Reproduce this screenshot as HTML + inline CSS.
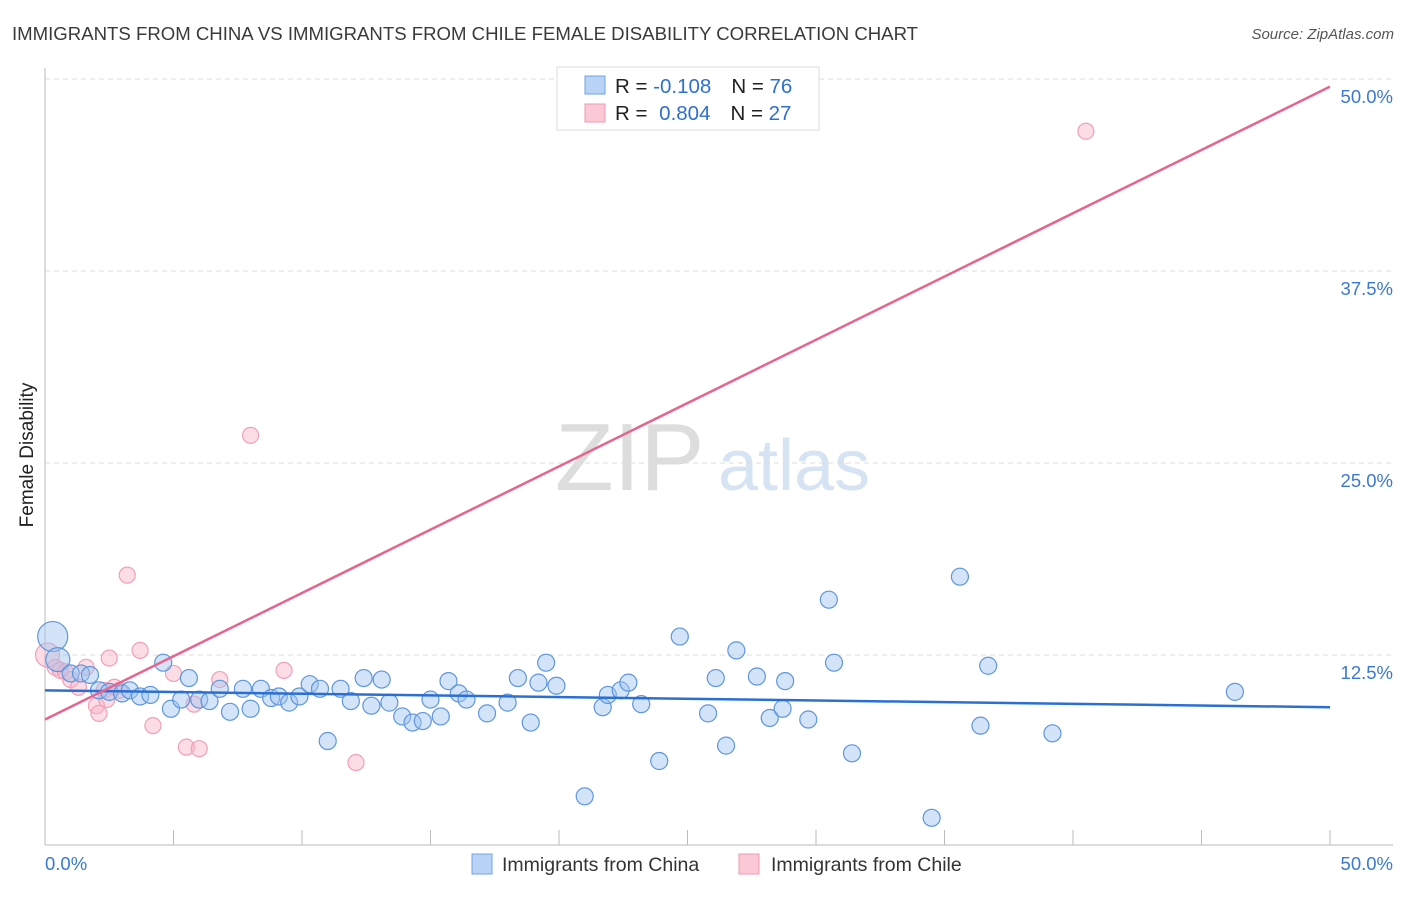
<!DOCTYPE html>
<html><head><meta charset="utf-8"><style>
body{margin:0;background:#fff;font-family:"Liberation Sans",sans-serif}
svg text{font-family:"Liberation Sans",sans-serif}
</style></head><body>
<svg id="chart" width="1406" height="892" xmlns="http://www.w3.org/2000/svg">
<text x="12" y="40" font-size="18.6" fill="#3a3a3a">IMMIGRANTS FROM CHINA VS IMMIGRANTS FROM CHILE FEMALE DISABILITY CORRELATION CHART</text>
<text x="1394" y="39" font-size="15" fill="#555" text-anchor="end" font-style="italic">Source: ZipAtlas.com</text>
<text x="555" y="490" font-size="96" fill="#ddd" font-family="Liberation Serif">ZIP</text>
<text x="718" y="490" font-size="72" fill="#d6e3f3">atlas</text>
<g id="grid"></g>
<g id="axes"></g>
<g id="marks"></g>
<text transform="translate(33,455) rotate(-90)" font-size="19" fill="#222" text-anchor="middle">Female Disability</text>
<text x="45" y="870" font-size="18.5" fill="#3a78d4">0.0%</text>
<text x="1393" y="870" font-size="18.5" fill="#3a78d4" text-anchor="end">50.0%</text>
<g>
<rect x="557" y="67" width="262" height="63" fill="#fff" stroke="#ddd"/>
<rect x="585" y="76" width="20" height="18" fill="#b8d3f5" stroke="#6fa3e6"/>
<rect x="585" y="104" width="20" height="18" fill="#fbc8d6" stroke="#ee9ab2"/>
<text x="615" y="93" font-size="20.5" fill="#222">R = <tspan fill="#2f6fd0">-0.108</tspan><tspan dx="20">N = </tspan><tspan fill="#2f6fd0">76</tspan></text>
<text x="615" y="120" font-size="20.5" fill="#222">R = <tspan fill="#2f6fd0" dx="6">0.804</tspan><tspan dx="20">N = </tspan><tspan fill="#2f6fd0">27</tspan></text>
</g>
<g>
<rect x="472" y="854" width="20" height="20" fill="#b8d3f5" stroke="#6fa3e6"/>
<text x="502" y="871" font-size="19.5" fill="#333">Immigrants from China</text>
<rect x="739" y="854" width="20" height="20" fill="#fbc8d6" stroke="#ee9ab2"/>
<text x="771" y="871" font-size="19.5" fill="#333">Immigrants from Chile</text>
</g>
</svg>
<script>
const yTicks=[12.5,25,37.5,50];
const yTickLabels=["12.5%","25.0%","37.5%","50.0%"];
const xTicks=[5,10,15,20,25,30,35,40,45,50];
const chinaX=[0.3,0.5,1.0,1.4,1.75,2.1,2.5,3.0,3.3,3.7,4.1,4.6,4.9,5.3,5.6,6.0,6.4,6.8,7.2,7.7,8.0,8.4,8.8,9.1,9.5,9.9,10.3,10.7,11.0,11.5,11.9,12.4,12.7,13.1,13.4,13.9,14.3,14.7,15.0,15.4,15.7,16.1,16.4,17.2,18.0,18.4,18.9,19.2,19.5,19.9,21.0,21.7,21.9,22.4,22.7,23.2,23.9,24.7,25.8,26.1,26.5,26.9,27.7,28.2,28.7,28.8,29.7,30.5,30.7,31.4,34.5,35.6,36.4,36.7,39.2,46.3];
const chinaY=[13.7,12.2,11.3,11.3,11.2,10.2,10.1,10.0,10.2,9.8,9.9,12.0,9.0,9.6,11.0,9.6,9.5,10.3,8.8,10.3,9.0,10.3,9.7,9.8,9.4,9.8,10.6,10.3,6.9,10.3,9.5,11.0,9.2,10.9,9.4,8.5,8.1,8.2,9.6,8.5,10.8,10.0,9.6,8.7,9.4,11.0,8.1,10.7,12.0,10.5,3.3,9.1,9.9,10.2,10.7,9.3,5.6,13.7,8.7,11.0,6.6,12.8,11.1,8.4,9.0,10.8,8.3,16.1,12.0,6.1,1.9,17.6,7.9,11.8,7.4,10.1];
const chinaR=[15,12];
const chileX=[0.1,0.4,0.6,0.8,1.0,1.3,1.6,2.0,2.1,2.3,2.4,2.5,2.7,2.9,3.2,3.7,4.2,5.0,5.5,5.8,6.0,6.8,8.0,9.3,12.1,40.5];
const chileY=[12.5,11.7,11.5,11.4,10.9,10.4,11.7,9.2,8.7,10.2,9.6,12.3,10.4,10.2,17.7,12.8,7.9,11.3,6.5,9.3,6.4,10.9,26.8,11.5,5.5,46.6];
const chinaTrend=[[0,10.2],[50,9.1]];
const chileTrend=[[0,8.3],[50,49.5]];
const X=v=>45+v/50*1285, Y=v=>847-v/12.5*192;
const NS="http://www.w3.org/2000/svg";
function mk(p,t,a){const e=document.createElementNS(NS,t);for(const k in a)e.setAttribute(k,a[k]);document.getElementById(p).appendChild(e);return e;}
yTicks.forEach((t,i)=>{
 const l=mk('grid','line',{x1:45,x2:1393,y1:Y(t),y2:Y(t),stroke:'#ddd','stroke-dasharray':'5,4'});
 
 
 const tx=mk('grid','text',{x:1393,y:Y(t)+24,'font-size':18.5,fill:'#3a78d4','text-anchor':'end'});
 tx.textContent=yTickLabels[i];
 
 
});
let a=mk('axes','line',{x1:45,x2:45,y1:68,y2:845,stroke:'#bbb'});


a=mk('axes','line',{x1:45,x2:1393,y1:845,y2:845,stroke:'#bbb'});


xTicks.forEach(t=>{const l=mk('axes','line',{x1:X(t),x2:X(t),y1:830,y2:845,stroke:'#bbb'});
 
 });
chileX.forEach((x,i)=>{const c=mk('marks','circle',{cx:X(x),cy:Y(chileY[i]),r:i==0?12:8,fill:'rgba(248,180,200,0.45)',stroke:'#f0a0b8','stroke-width':1.2});
 
 });
chinaX.forEach((x,i)=>{const c=mk('marks','circle',{cx:X(x),cy:Y(chinaY[i]),r:chinaR[i]||8.5,fill:'rgba(160,196,240,0.45)',stroke:'#5e96dc','stroke-width':1.2});
 
 });
let t=mk('marks','line',{x1:X(chinaTrend[0][0]),y1:Y(chinaTrend[0][1]),x2:X(chinaTrend[1][0]),y2:Y(chinaTrend[1][1]),stroke:'#2a6fd6','stroke-width':2.5});


t=mk('marks','line',{x1:X(chileTrend[0][0]),y1:Y(chileTrend[0][1]),x2:X(chileTrend[1][0]),y2:Y(chileTrend[1][1]),stroke:'#e8638f','stroke-width':2.5});


</script>
</body></html>
